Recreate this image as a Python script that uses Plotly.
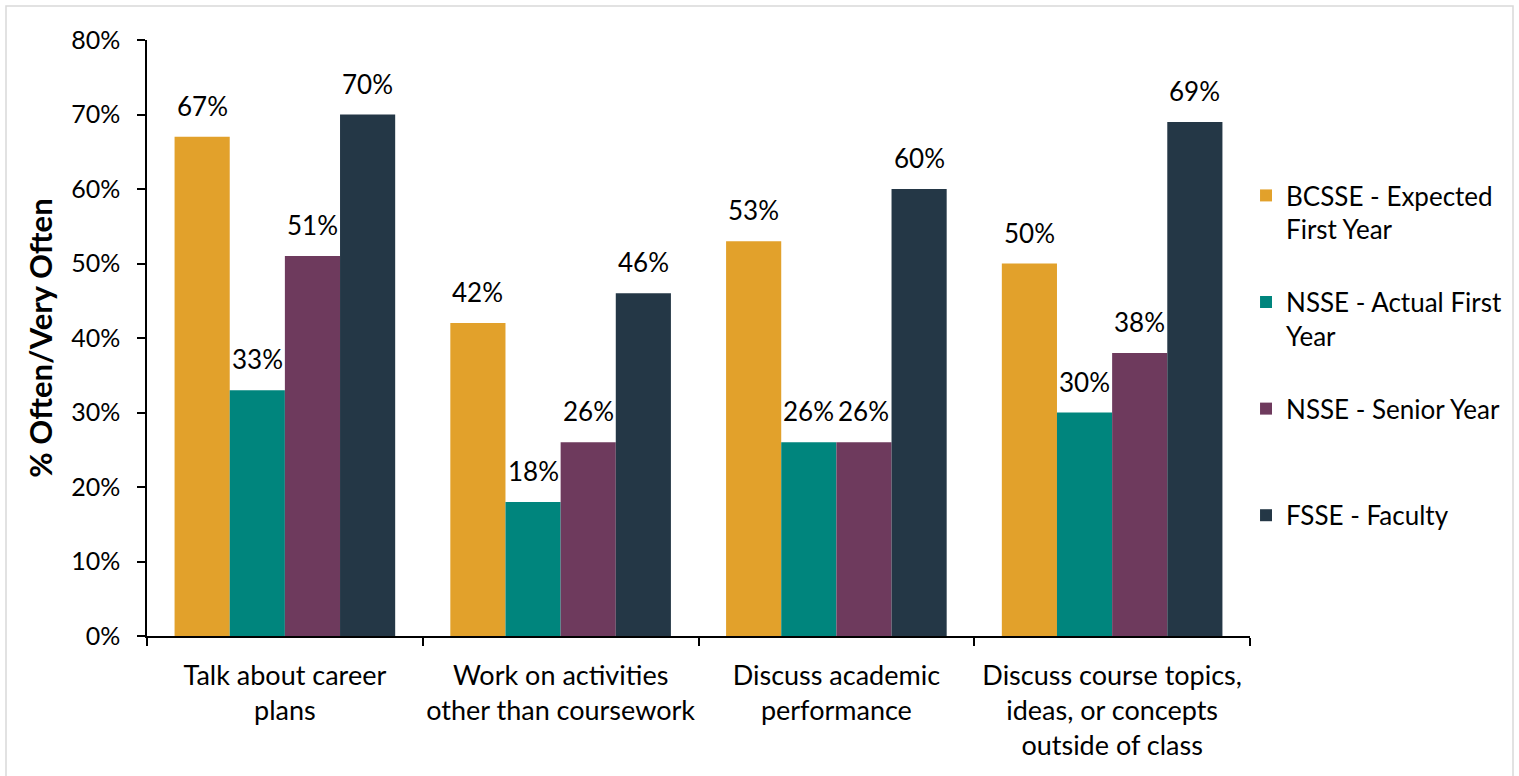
import plotly.graph_objects as go

categories = [
    "Talk about career<br>plans",
    "Work on activities<br>other than coursework",
    "Discuss academic<br>performance",
    "Discuss course topics,<br>ideas, or concepts<br>outside of class",
]
series_names = [
    "BCSSE - Expected<br>First Year",
    "NSSE - Actual First<br>Year",
    "NSSE - Senior Year",
    "FSSE - Faculty",
]
bcsse = [67, 42, 53, 50]
nsse_first = [33, 18, 26, 30]
nsse_senior = [51, 26, 26, 38]
fsse = [70, 46, 60, 69]
colors = ["#E2A12B", "#00857D", "#6E3A5D", "#243746"]
y_ticks = [0, 10, 20, 30, 40, 50, 60, 70, 80]

FONT = "Lato"
values = [bcsse, nsse_first, nsse_senior, fsse]

fig = go.Figure()
for i, (name, vals, col) in enumerate(zip(series_names, values, colors)):
    # pad single-line legend entries so every entry occupies two lines
    legend_name = name if "<br>" in name else name + "<br> "
    fig.add_trace(go.Bar(
        x=categories, y=vals, name=legend_name, marker=dict(color=col, line=dict(width=0)),
        legendgroup=f"g{i}",
    ))

# data labels as annotations above each bar
n = len(values)
bargap = 0.2
w = (1 - bargap) / n
annotations = []
for s, vals in enumerate(values):
    off = -(1 - bargap) / 2 + w * (s + 0.5)
    for c, v in enumerate(vals):
        annotations.append(dict(
            x=c + off, y=v, xref="x", yref="y", text=f"{v}%", showarrow=False,
            yanchor="bottom", yshift=13, font=dict(family=FONT, size=26, color="black"),
        ))

fig.update_layout(
    width=1519, height=776,
    margin=dict(l=147, r=269, t=40, b=140),
    paper_bgcolor="white", plot_bgcolor="white",
    barmode="group", bargap=bargap, bargroupgap=0,
    font=dict(family=FONT, size=26, color="black"),
    annotations=annotations,
    legend=dict(
        x=0.9964, xanchor="left", y=0.7785, yanchor="top",
        font=dict(family=FONT, size=26, color="black"),
        valign="top", tracegroupgap=36, itemwidth=30,
    ),
    shapes=[dict(
        type="rect", xref="paper", yref="paper",
        x0=(6 - 147) / 1103, x1=(1513 - 147) / 1103,
        y0=-0.3, y1=(636 - 6) / 596,
        line=dict(color="#D9D9D9", width=1.5), fillcolor="rgba(0,0,0,0)", layer="below",
    )],
)
fig.update_yaxes(
    range=[0, 80], tickvals=y_ticks, ticktext=[f"{t}%" for t in y_ticks],
    showgrid=False, zeroline=False, automargin=False,
    showline=True, linecolor="black", linewidth=1.5,
    ticks="outside", ticklen=8, tickcolor="black", tickwidth=1.5,
    ticklabelstandoff=12,
    tickfont=dict(family=FONT, size=25),
    title=dict(text="<b>% Often/Very Often</b>", font=dict(family=FONT, size=31), standoff=9),
)
fig.update_xaxes(
    showgrid=False, showline=True, linecolor="black", linewidth=1.5, automargin=False,
    ticks="outside", ticklen=8, tickcolor="black", tickwidth=1.5, tickson="boundaries",
    tickangle=0, ticklabelstandoff=15,
    tickfont=dict(family=FONT, size=27),
)
fig.write_html("out.html")
